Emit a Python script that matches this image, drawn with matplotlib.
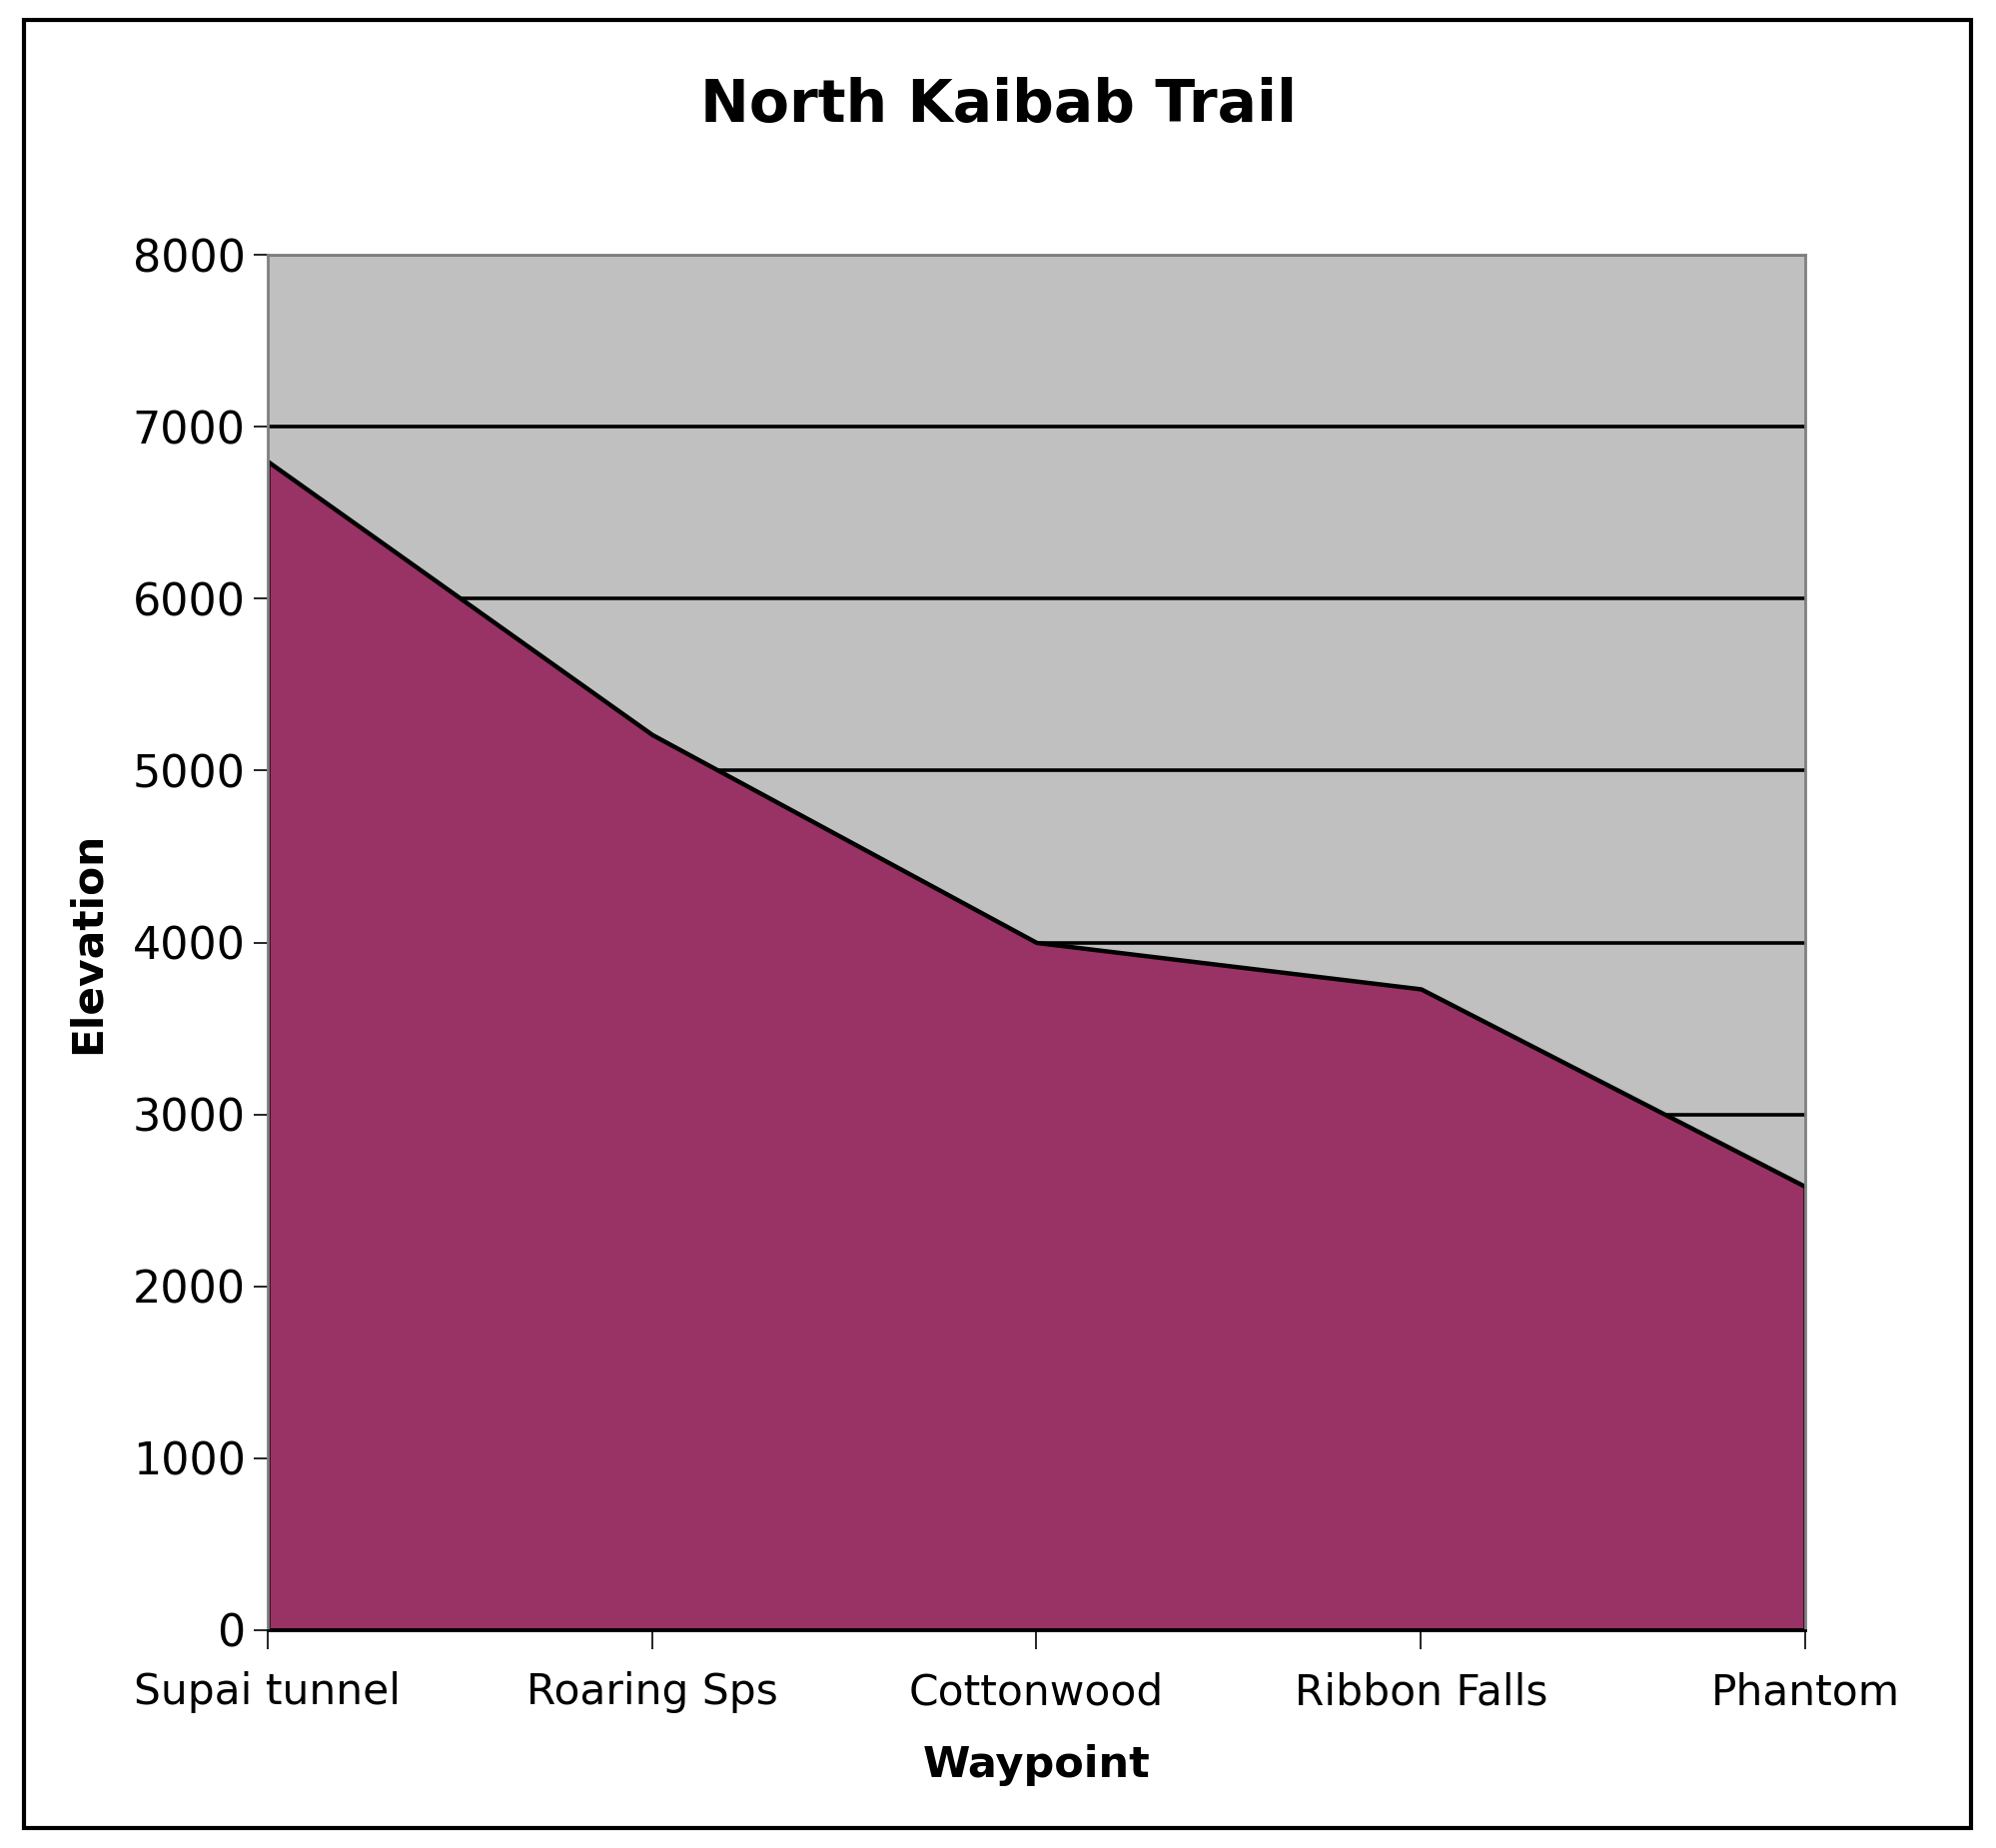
import matplotlib.pyplot as plt
from matplotlib.patches import Rectangle

# waypoints along the trail and their elevations (ft)
waypoints = ['Supai tunnel', 'Roaring Sps', 'Cottonwood', 'Ribbon Falls', 'Phantom']
elevation = [6800, 5210, 4000, 3730, 2580]
yticks = [0, 1000, 2000, 3000, 4000, 5000, 6000, 7000, 8000]

fig = plt.figure(figsize=(19.99, 18.5), dpi=100)
fig.patches.append(Rectangle((0.012, 0.011), 0.975, 0.978, transform=fig.transFigure,
                             fill=False, edgecolor='black', linewidth=3))

ax = fig.add_axes([0.134, 0.118, 0.770, 0.744])
ax.set_facecolor('#C0C0C0')
x = list(range(len(waypoints)))

for t in yticks[1:]:
    ax.axhline(t, color='black', linewidth=2.6, zorder=1)

ax.fill_between(x, elevation, 0, facecolor='#993366', edgecolor='black',
                linewidth=3.2, zorder=2)

ax.set_xlim(0, len(waypoints) - 1)
ax.set_ylim(0, 8000)
ax.set_yticks(yticks)
ax.set_yticklabels([str(t) for t in yticks], fontsize=32)
ax.set_xticks(x)
ax.set_xticklabels(waypoints, fontsize=30.5)
ax.tick_params(axis='y', length=10, width=1.2, pad=6)
ax.tick_params(axis='x', length=14, width=1.2, pad=16)
for s in ax.spines.values():
    s.set_color('#808080')
    s.set_linewidth(2)
ax.spines['bottom'].set_color('black')

ax.set_xlabel('Waypoint', fontsize=31, fontweight='bold', labelpad=22)
ax.set_ylabel('Elevation', fontsize=30.5, fontweight='bold', labelpad=17)
fig.text(0.5, 0.943, 'North Kaibab Trail', fontsize=42, fontweight='bold',
         ha='center', va='center')

fig.savefig('out.png', dpi=100)
